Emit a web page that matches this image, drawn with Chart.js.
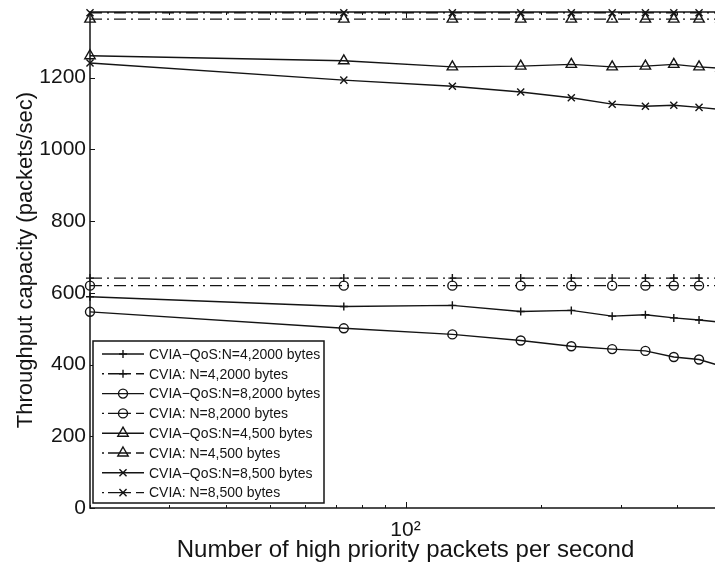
<!DOCTYPE html>
<html>
<head>
<meta charset="utf-8">
<script src="https://cdn.jsdelivr.net/npm/chart.js@4/dist/chart.umd.min.js"></script>
<style>
  html, body { margin: 0; padding: 0; background: #fff; overflow: hidden; width: 715px; height: 576px; }
  #wrap { width: 731px; height: 576px; }
</style>
</head>
<body>
<div id="wrap"><canvas id="chart" width="731" height="576"></canvas></div>
<script>
// packets per second (x axis, log scale)
const xValues = [20, 73, 127, 180, 233, 287, 340, 393, 447, 500];

// throughput capacity, packets/sec
const qosN4_2000  = [589, 562, 565, 548, 551, 535, 539, 530, 524, 518];
const cviaN4_2000 = [641, 641, 641, 641, 641, 641, 641, 641, 641, 641];
const qosN8_2000  = [547, 501, 484, 467, 451, 443, 438, 421, 414, 396];
const cviaN8_2000 = [620, 620, 620, 620, 620, 620, 620, 620, 620, 620];
const qosN4_500   = [1261, 1247, 1230, 1232, 1237, 1230, 1232, 1237, 1230, 1226];
const cviaN4_500  = [1363, 1363, 1363, 1363, 1363, 1363, 1363, 1363, 1363, 1363];
const qosN8_500   = [1241, 1193, 1176, 1160, 1144, 1126, 1120, 1123, 1117, 1111];
const cviaN8_500  = [1381, 1381, 1381, 1381, 1381, 1381, 1381, 1381, 1381, 1381];

const seriesLabels = [
  "CVIA\u2212QoS:N=4,2000 bytes",
  "CVIA: N=4,2000 bytes",
  "CVIA\u2212QoS:N=8,2000 bytes",
  "CVIA: N=8,2000 bytes",
  "CVIA\u2212QoS:N=4,500 bytes",
  "CVIA: N=4,500 bytes",
  "CVIA\u2212QoS:N=8,500 bytes",
  "CVIA: N=8,500 bytes",
];

const xTickValues = [20, 30, 40, 50, 60, 70, 80, 90, 100, 200, 300, 400, 500];
const xTickLabels = ["", "", "", "", "", "", "", "", "10\u00b2", "", "", "", ""];
const yTickValues = [0, 200, 400, 600, 800, 1000, 1200];

const INK = "#141414";
const DASHDOT = [12, 5, 2, 5];

Chart.defaults.font.family = 'Arial, "Liberation Sans", Helvetica, sans-serif';
Chart.defaults.color = INK;

function serie(label, values, style, radius, dashed) {
  return {
    label: label,
    data: values.map((v, i) => ({ x: xValues[i], y: v })),
    borderColor: INK,
    borderWidth: 1.4,
    borderDash: dashed ? DASHDOT : [],
    pointStyle: style,
    pointRadius: radius,
    pointBorderColor: INK,
    pointBorderWidth: 1.4,
    pointBackgroundColor: "rgba(0,0,0,0)",
    tension: 0,
    clip: false,
    _dashed: dashed,
  };
}

// frame and inward tick marks like the original figure
const frame = {
  id: "frame",
  afterDatasetsDraw(chart) {
    const { ctx, chartArea: a, scales } = chart;
    ctx.save();
    ctx.strokeStyle = INK;
    ctx.lineWidth = 1.5;
    ctx.beginPath();
    ctx.moveTo(a.left, a.top);
    ctx.lineTo(a.left, a.bottom);
    ctx.lineTo(a.right, a.bottom);
    ctx.lineTo(a.right, a.top);
    ctx.closePath();
    ctx.stroke();

    ctx.lineWidth = 1;
    ctx.beginPath();
    yTickValues.forEach(v => {
      const py = Math.round(scales.y.getPixelForValue(v)) + 0.5;
      ctx.moveTo(a.left, py); ctx.lineTo(a.left + 5, py);
      ctx.moveTo(a.right, py); ctx.lineTo(a.right - 5, py);
    });
    xTickValues.forEach(v => {
      const px = Math.round(scales.x.getPixelForValue(v)) + 0.5;
      const len = v === 100 ? 6 : 3;
      ctx.moveTo(px, a.bottom); ctx.lineTo(px, a.bottom - len);
      ctx.moveTo(px, a.top); ctx.lineTo(px, a.top + len);
    });
    ctx.stroke();
    ctx.restore();
  }
};

// boxed legend with line samples, drawn over the plot
const legendBox = {
  id: "legendBox",
  afterDraw(chart) {
    const ctx = chart.ctx;
    const bx = 93, by = 341, bw = 231, bh = 162;
    ctx.save();
    ctx.fillStyle = "#fff";
    ctx.fillRect(bx, by, bw, bh);
    ctx.strokeStyle = INK;
    ctx.lineWidth = 1.5;
    ctx.strokeRect(bx, by, bw, bh);

    chart.data.datasets.forEach((ds, i) => {
      const y = by + 13 + i * 19.8;
      ctx.strokeStyle = INK;
      ctx.lineWidth = 1.4;
      ctx.beginPath();
      if (ds._dashed) {
        ctx.moveTo(102, y); ctx.lineTo(104, y);
        ctx.moveTo(108, y); ctx.lineTo(131, y);
        ctx.moveTo(136, y); ctx.lineTo(144, y);
      } else {
        ctx.moveTo(102, y); ctx.lineTo(144, y);
      }
      ctx.stroke();
      ctx.fillStyle = "rgba(0,0,0,0)";
      Chart.helpers.drawPoint(ctx, {
        pointStyle: ds.pointStyle,
        radius: ds.pointRadius,
        rotation: 0,
        borderWidth: 1.4,
      }, 123, y);

      ctx.fillStyle = INK;
      ctx.font = '14px Arial, "Liberation Sans", sans-serif';
      ctx.textBaseline = "middle";
      ctx.textAlign = "left";
      ctx.fillText(ds.label, 149, y + 1);
    });
    ctx.restore();
  }
};

new Chart(document.getElementById("chart"), {
  type: "line",
  data: {
    datasets: [
      serie(seriesLabels[0], qosN4_2000, "cross", 4, false),
      serie(seriesLabels[1], cviaN4_2000, "cross", 4, true),
      serie(seriesLabels[2], qosN8_2000, "circle", 4.5, false),
      serie(seriesLabels[3], cviaN8_2000, "circle", 4.5, true),
      serie(seriesLabels[4], qosN4_500, "triangle", 6, false),
      serie(seriesLabels[5], cviaN4_500, "triangle", 6, true),
      serie(seriesLabels[6], qosN8_500, "crossRot", 5, false),
      serie(seriesLabels[7], cviaN8_500, "crossRot", 5, true),
    ],
  },
  options: {
    responsive: false,
    animation: false,
    devicePixelRatio: 1,
    layout: { padding: { top: 12, right: 5, left: 0, bottom: 0 } },
    plugins: {
      legend: { display: false },
      tooltip: { enabled: false },
    },
    scales: {
      x: {
        type: "logarithmic",
        min: 20,
        max: 500,
        afterBuildTicks: s => { s.ticks = xTickValues.map(v => ({ value: v, major: v === 100 })); },
        afterFit: s => { s.height = 68; },
        grid: { display: false, drawTicks: false },
        border: { display: false },
        ticks: {
          autoSkip: false,
          maxRotation: 0,
          padding: 10,
          font: { size: 21 },
          callback: (v, i) => xTickLabels[i],
        },
        title: {
          display: true,
          text: "Number of high priority packets per second",
          font: { size: 24 },
          padding: { top: 0, bottom: 11 },
        },
      },
      y: {
        min: 0,
        max: 1383,
        afterBuildTicks: s => { s.ticks = yTickValues.map(v => ({ value: v })); },
        afterFit: s => { s.width = 90; s.paddingTop = 0; s.paddingBottom = 0; },
        grid: { display: false, drawTicks: false },
        border: { display: false },
        ticks: {
          padding: 4,
          font: { size: 21 },
          callback: v => String(v),
        },
        title: {
          display: true,
          text: "Throughput capacity (packets/sec)",
          font: { size: 22 },
          padding: { top: 13, bottom: 0 },
        },
      },
    },
  },
  plugins: [frame, legendBox],
});
</script>
</body>
</html>
